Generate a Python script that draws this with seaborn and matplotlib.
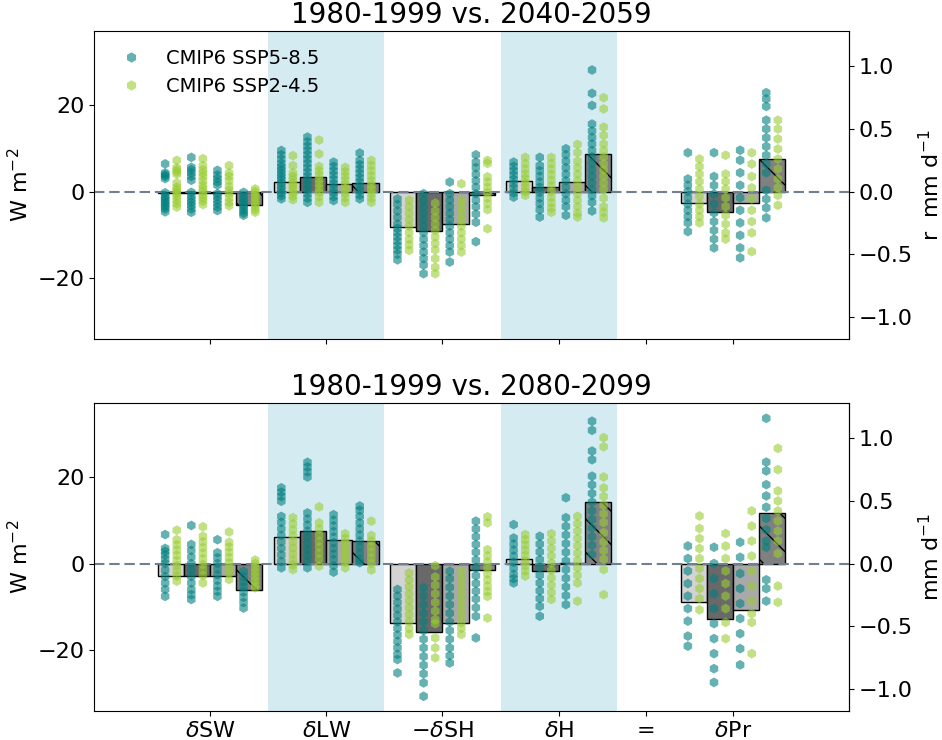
import matplotlib
matplotlib.use('Agg')
import matplotlib.pyplot as plt
from matplotlib.lines import Line2D
import numpy as np
import pandas as pd
import seaborn as sns

# W m-2 per mm d-1 (latent heat of vaporisation / seconds per day)
LV = 28.94

terms = ['dSW', 'dLW', 'mdSH', 'dH', 'dPr']
tick_pos = [1, 2, 3, 4, 4.75, 5.5]
tick_labels = [r'$\delta$SW', r'$\delta$LW', r'$-\delta$SH', r'$\delta$H', '=', r'$\delta$Pr']
group_pos = [1, 2, 3, 4, 5.5]
scenarios = ['CMIP6 SSP5-8.5', 'CMIP6 SSP2-4.5']
titles = ['1980-1999 vs. 2040-2059', '1980-1999 vs. 2080-2099']
right_labels = ['r  mm d$^{\\mathregular{-1}}$', 'mm d$^{\\mathregular{-1}}$']

# ---- 2040-2059 (W m-2, dPr in mm d-1) ----
sw_bar_mid = [-0.4, -0.3, -0.3, -3.2]
sw_585_mid = [[6.4, 4.3, 3.9, 3.5, 3.0, -0.3, -1, -1.5, -2, -2.5, -3, -3.5, -4, -4.7],
              [7.9, 5.6, 5, 4.3, 3.5, 2.6, -0.2, -1, -1.8, -2.5, -3.2, -4, -4.8],
              [4.9, 3.8, 3.0, 2.2, 1.5, -0.5, -1.2, -2, -2.8, -3.6, -4.4],
              [-0.2, -1, -1.8, -2.5, -3.2, -3.8, -4.4, -5.0, -5.5]]
sw_245_mid = [[7.2, 5.5, 5.0, 4.5, 4.0, 2.0, 1.0, 0.5, 0, -0.5, -1.2, -2, -2.8, -3.6],
              [7.6, 6.0, 5.0, 4.3, 3.5, 2.5, 1.5, 0.8, 0, -0.8, -1.5, -2.2, -3.0],
              [6.0, 4.3, 3.5, 2.5, 1.2, 0.3, -0.5, -1.5, -2.5, -3.3],
              [0.6, 0, -0.7, -1.4, -2.1, -2.8, -3.5, -4.2, -4.8]]

lw_bar_mid = [2.2, 3.3, 1.8, 1.9]
lw_585_mid = [[9.5, 8.5, 7.5, 6.5, 5.7, 5.0, 4.2, 3.5, 2.8, 2.0, 1.2, 0.5, -0.3, -1.0, -1.7],
              [12.6, 11.5, 10.5, 9.5, 8.5, 7.5, 6.5, 5.5, 4.5, 3.5, 2.5, 1.5, 0.5, -0.5, -1.5, -2.5],
              [6.8, 5.8, 4.8, 3.8, 2.8, 1.8, 0.8, -0.2, -1.2, -2.1],
              [8.9, 7.2, 6.2, 5.2, 4.2, 3.2, 2.2, 1.2, 0.2, -0.8, -1.7]]
lw_245_mid = [[8.3, 6.0, 4.3, 3.5, 2.7, 2.0, 1.2, 0.5, -0.3, -1.1, -1.9],
              [11.9, 8.7, 5.8, 4.8, 3.8, 2.8, 1.8, 0.8, -0.2, -1.2, -2.5],
              [5.6, 4.6, 3.6, 2.6, 1.6, 0.6, -0.4, -1.4, -2.5],
              [7.2, 6.0, 4.8, 3.6, 2.5, 1.5, 0.5, -0.5, -1.5, -2.5]]

sh_bar_mid = [-8.1, -9.2, -7.6, -0.9]
sh_585_mid = [[-1.7, -3, -4.5, -6, -7.5, -8.5, -9.5, -10.5, -11.5, -12.5, -13.5, -14.5, -15.8],
              [-0.5, -2, -3.5, -5, -6.5, -8, -9.5, -11, -12.5, -14, -15.5, -17, -19],
              [2.2, -0.5, -2, -3.5, -5, -6.5, -8, -9.5, -11, -12.5, -14, -16.3],
              [8.5, 6.8, 5.5, 4, 2.5, 1, -0.5, -2, -3.5, -5.2, -7.1, -11.6]]
sh_245_mid = [[-2.0, -3.5, -5, -6.5, -8, -9.5, -11, -12.3, -13.6],
              [-2.7, -4.5, -6, -7.5, -9, -10.5, -12, -13.5, -15.5, -17.5, -19],
              [1.8, -2.0, -3.5, -5, -6.5, -8, -9.5, -11, -12.5, -14],
              [7.2, 6.5, 3.4, 2.2, 1, -0.2, -1.5, -2.8, -4.2, -8.6]]

h_bar_mid = [2.4, 1.0, 2.2, 8.7]
h_585_mid = [[6.8, 5.8, 4.8, 3.8, 2.8, 1.8, 0.8, -0.3, -1.3],
             [7.9, 6.0, 4.8, 3.5, 2.2, 1.0, -0.2, -1.5, -2.8, -4.2, -5.9],
             [9.9, 8.5, 7.0, 5.5, 4.0, 2.5, 1.0, -0.5, -2.0, -3.5, -5.5],
             [28.1, 22.7, 19.9, 15.6, 14.0, 12.5, 11, 9.5, 8, 6.5, 5, 3.5, 2, 0.5, -1, -2.5, -4.5]]
h_245_mid = [[7.9, 6.5, 5.2, 4.0, 3.0, 2.0, 1.0, 0, -0.9],
             [7.9, 6.5, 5.2, 3.9, 2.6, 1.3, 0, -1.3, -2.6, -3.8, -4.8],
             [10.9, 9.0, 7.0, 5.5, 4.0, 2.5, 1.0, -0.5, -2.0, -3.5, -5.0, -5.9],
             [21.7, 19.1, 14.9, 13, 11, 9.5, 8, 6.4, 5, 3.5, 2, 0.5, -1.5, -3.5, -4.8, -6.1]]

pr_bar_mid = [-0.09, -0.16, -0.09, 0.26]
pr_585_mid = [[0.31, 0.10, 0.05, 0, -0.05, -0.10, -0.15, -0.20, -0.25, -0.32],
              [0.31, 0.12, 0.05, -0.02, -0.1, -0.17, -0.24, -0.31, -0.38, -0.45],
              [0.33, 0.25, 0.15, 0.05, -0.05, -0.15, -0.25, -0.35, -0.45, -0.53],
              [0.79, 0.74, 0.68, 0.57, 0.50, 0.43, 0.36, 0.29, 0.22, 0.15, 0.01, -0.06, -0.13, -0.21]]
pr_245_mid = [[0.26, 0.2, 0.14, 0.08, 0.02, -0.04, -0.1, -0.15, -0.2, -0.25],
              [0.29, 0.14, 0.08, 0.02, -0.05, -0.12, -0.19, -0.26, -0.33, -0.38],
              [0.31, 0.22, 0.12, 0.03, -0.06, -0.15, -0.24, -0.33, -0.48],
              [0.57, 0.50, 0.42, 0.34, 0.26, 0.18, 0.10, 0.03, -0.03, -0.11]]

# ---- 2080-2099 ----
sw_bar_end = [-2.8, -2.8, -2.8, -6.2]
sw_585_end = [[6.7, 3.5, 2.8, 2.0, 1.0, 0, -1.5, -3, -4.5, -6, -7.6],
              [8.8, 4.4, 3, 1.5, 0, -1.5, -3, -4.5, -6, -7.2, -8.3],
              [5.5, 2.5, 1.3, 0, -1.3, -2.6, -3.9, -5.2, -6.4, -7.6],
              [-1.8, -3, -4.2, -5.4, -6.6, -7.8, -9, -10.3]]
sw_245_end = [[7.7, 5.5, 4.3, 3.1, 1.9, 0.7, -0.5, -1.7, -2.9, -4.1],
              [8.5, 6.3, 5.0, 3.7, 2.4, 1.1, -0.2, -1.5, -2.8, -4.5],
              [7.3, 4.9, 3.8, 2.6, 1.4, 0.2, -1, -2.2, -3.7],
              [0.8, 0, -1, -2, -3, -4, -5, -5.6]]

lw_bar_end = [6.2, 7.6, 5.4, 5.2]
lw_585_end = [[17.5, 16.5, 15.5, 14.4, 10.9, 9.5, 8.0, 6.5, 5.0, 3.5, 2.0, 0.5, -1.0],
              [23.4, 22.3, 21.2, 20.0, 11.7, 10.3, 8.9, 7.5, 6.1, 4.7, 3.3, 1.9, 0.5, -1.0],
              [11.3, 10, 8.7, 7.4, 6.1, 4.8, 3.5, 2.2, 0.9, -0.5, -2.0],
              [13.3, 12.3, 10.9, 9.4, 8, 6.6, 5.2, 3.8, 2.4, 1.0, 0.2]]
lw_245_end = [[10.6, 9.2, 7.8, 6.4, 5.0, 3.6, 2.2, 0.8, -0.3, -1.4],
              [13.1, 9.4, 8.0, 6.6, 5.2, 3.8, 2.4, 1.0, -0.6],
              [6.9, 5.8, 4.7, 3.6, 2.5, 1.4, 0.3, -1.0],
              [9.8, 6.5, 5.2, 3.9, 2.6, 1.3, 0, -1.5]]

sh_bar_end = [-13.7, -15.8, -13.7, -1.4]
sh_585_end = [[-6.0, -7.5, -9, -10.5, -12, -13.5, -15, -16.5, -18, -19.5, -21, -22.2, -25.3],
              [-5.6, -7.5, -9.5, -11.5, -13.5, -15.5, -17.5, -19.5, -21.5, -23.5, -25.5, -27.6, -30.7],
              [-1.8, -3.5, -5.5, -7.5, -9.5, -11.5, -13.5, -15.5, -17.5, -19.5, -21.3, -23.0],
              [9.8, 8, 6.2, 4.4, 2.6, 0.8, -1, -2.8, -4.6, -6.4, -8.2, -10.2, -12.2, -17.2]]
sh_245_end = [[-2.2, -3.8, -5.4, -7, -8.6, -10.2, -11.8, -13.4, -15, -16.4],
              [-0.5, -3.1, -5.0, -7.0, -9.0, -11, -13, -13.9, -17.2, -19.5, -21.8],
              [-1.8, -3.5, -5.2, -6.9, -8.6, -10.3, -12, -13.7, -15, -16.4],
              [10.8, 9.4, 3.2, 1.8, 0.4, -1, -2.4, -3.8, -5.2, -6.5, -7.6, -12.6]]

h_bar_end = [1.1, -1.8, 0.1, 14.3]
h_585_end = [[9.0, 5.9, 4.5, 3.1, 1.7, 0.3, -1.1, -2.5, -3.5, -4.5],
             [6.3, 4.5, 2.7, 0.9, -0.9, -2.7, -4.5, -6.3, -8.1, -9.9, -12.2],
             [15.2, 10.6, 8.6, 6.6, 4.6, 2.6, 0.6, -1.4, -3.4, -5.4, -7.4, -9.5],
             [32.9, 30.8, 26.0, 24.0, 20.2, 18.2, 16.2, 14.2, 12.2, 10.2, 8.2, 6.2, 4.2, 2.1]]
h_245_end = [[6.7, 5.5, 4.3, 3.1, 1.9, 0.7, -0.5, -1.7, -2.9],
             [6.9, 5.2, 3.5, 1.8, 0.1, -1.6, -3.3, -5.0, -6.7, -8.3],
             [10.9, 9.2, 7.5, 5.8, 4.1, 2.4, 0.7, -1.0, -2.7, -4.5, -8.7],
             [29.1, 27.0, 20.0, 17.5, 15.5, 13.5, 11.5, 9.5, 7.1, 5.0, 3.0, 1.0, -1.4, -7.2]]

pr_bar_end = [-0.31, -0.44, -0.37, 0.40]
pr_585_end = [[0.14, 0.04, -0.06, -0.16, -0.26, -0.36, -0.46, -0.58, -0.66],
              [0.13, 0.0, -0.12, -0.24, -0.36, -0.48, -0.6, -0.72, -0.84, -0.95],
              [0.17, 0.05, -0.08, -0.2, -0.32, -0.44, -0.56, -0.68, -0.81],
              [1.16, 0.81, 0.74, 0.63, 0.54, 0.45, 0.36, 0.27, 0.18, 0.13, -0.13, -0.2, -0.3]]
pr_245_end = [[0.38, 0.28, 0.2, 0.12, 0.04, -0.04, -0.12, -0.2, -0.28, -0.37],
              [0.24, 0.14, 0.04, -0.06, -0.16, -0.26, -0.36, -0.47, -0.6],
              [0.42, 0.3, 0.18, 0.06, -0.06, -0.18, -0.3, -0.4, -0.47, -0.72],
              [0.92, 0.75, 0.58, 0.5, 0.42, 0.34, 0.26, 0.18, 0.08, -0.18, -0.31]]

panels = [
    {'bars': [sw_bar_mid, lw_bar_mid, sh_bar_mid, h_bar_mid, pr_bar_mid],
     '585': [sw_585_mid, lw_585_mid, sh_585_mid, h_585_mid, pr_585_mid],
     '245': [sw_245_mid, lw_245_mid, sh_245_mid, h_245_mid, pr_245_mid]},
    {'bars': [sw_bar_end, lw_bar_end, sh_bar_end, h_bar_end, pr_bar_end],
     '585': [sw_585_end, lw_585_end, sh_585_end, h_585_end, pr_585_end],
     '245': [sw_245_end, lw_245_end, sh_245_end, h_245_end, pr_245_end]},
]

bar_offsets = [-0.3375, -0.1125, 0.1125, 0.3375]
bar_width = 0.225
bar_colors = ['lightgray', 'dimgray', 'darkgray', 'gray']
bar_hatches = [None, None, None, '\\']
palette = {scenarios[0]: 'teal', scenarios[1]: 'yellowgreen'}

fig, axs = plt.subplots(2, 1, figsize=(9.42, 7.4), dpi=100, sharex=True)
plt.subplots_adjust(left=0.0998, right=0.9013, top=0.958, bottom=0.0392, hspace=0.208)

for ax, panel, title, rlab in zip(axs, panels, titles, right_labels):
    rows = []
    for g, term in enumerate(terms):
        scale = LV if term == 'dPr' else 1.0
        for b in range(4):
            h = panel['bars'][g][b] * scale
            ax.bar(group_pos[g] + bar_offsets[b], h, width=bar_width,
                   color=bar_colors[b], edgecolor='black', linewidth=1,
                   hatch=bar_hatches[b], zorder=2)
            for v in panel['585'][g][b]:
                rows.append((group_pos[g] + bar_offsets[b] - 0.05, v * scale, scenarios[0]))
            for v in panel['245'][g][b]:
                rows.append((group_pos[g] + bar_offsets[b] + 0.05, v * scale, scenarios[1]))
    df = pd.DataFrame(rows, columns=['x', 'value', 'scenario'])

    ax.axvspan(1.5, 2.5, color='lightblue', alpha=0.5, lw=0, zorder=0)
    ax.axvspan(3.5, 4.5, color='lightblue', alpha=0.5, lw=0, zorder=0)
    ax.axhline(0, color='slategray', lw=1.5, ls=(0, (5, 2.3)), zorder=2.5)

    sns.scatterplot(data=df, x='x', y='value', hue='scenario', palette=palette,
                    marker='h', s=50, alpha=0.6, linewidth=0, legend=False,
                    ax=ax, zorder=3)

    ax.set_xlim(0, 6.5)
    ax.set_ylim(-34.1, 37.1)
    ax.set_title(title, fontsize=20)
    ax.set_ylabel('W m$^{\\mathregular{-2}}$', fontsize=16)
    ax.set_xlabel('')
    ax.tick_params(labelsize=16)

    sec = ax.secondary_yaxis('right', functions=(lambda w: w / LV, lambda m: m * LV))
    sec.tick_params(labelsize=16)
    sec.set_ylabel(rlab, fontsize=16)

axs[1].set_xticks(tick_pos)
axs[1].set_xticklabels(tick_labels, fontsize=16)

handles = [Line2D([], [], marker='h', ls='', color=palette[s], alpha=0.6,
                  markersize=7.5, markeredgewidth=0) for s in scenarios]
axs[0].legend(handles, scenarios, loc='upper left', frameon=False, fontsize=14)

fig.savefig('out.png', dpi=100)
